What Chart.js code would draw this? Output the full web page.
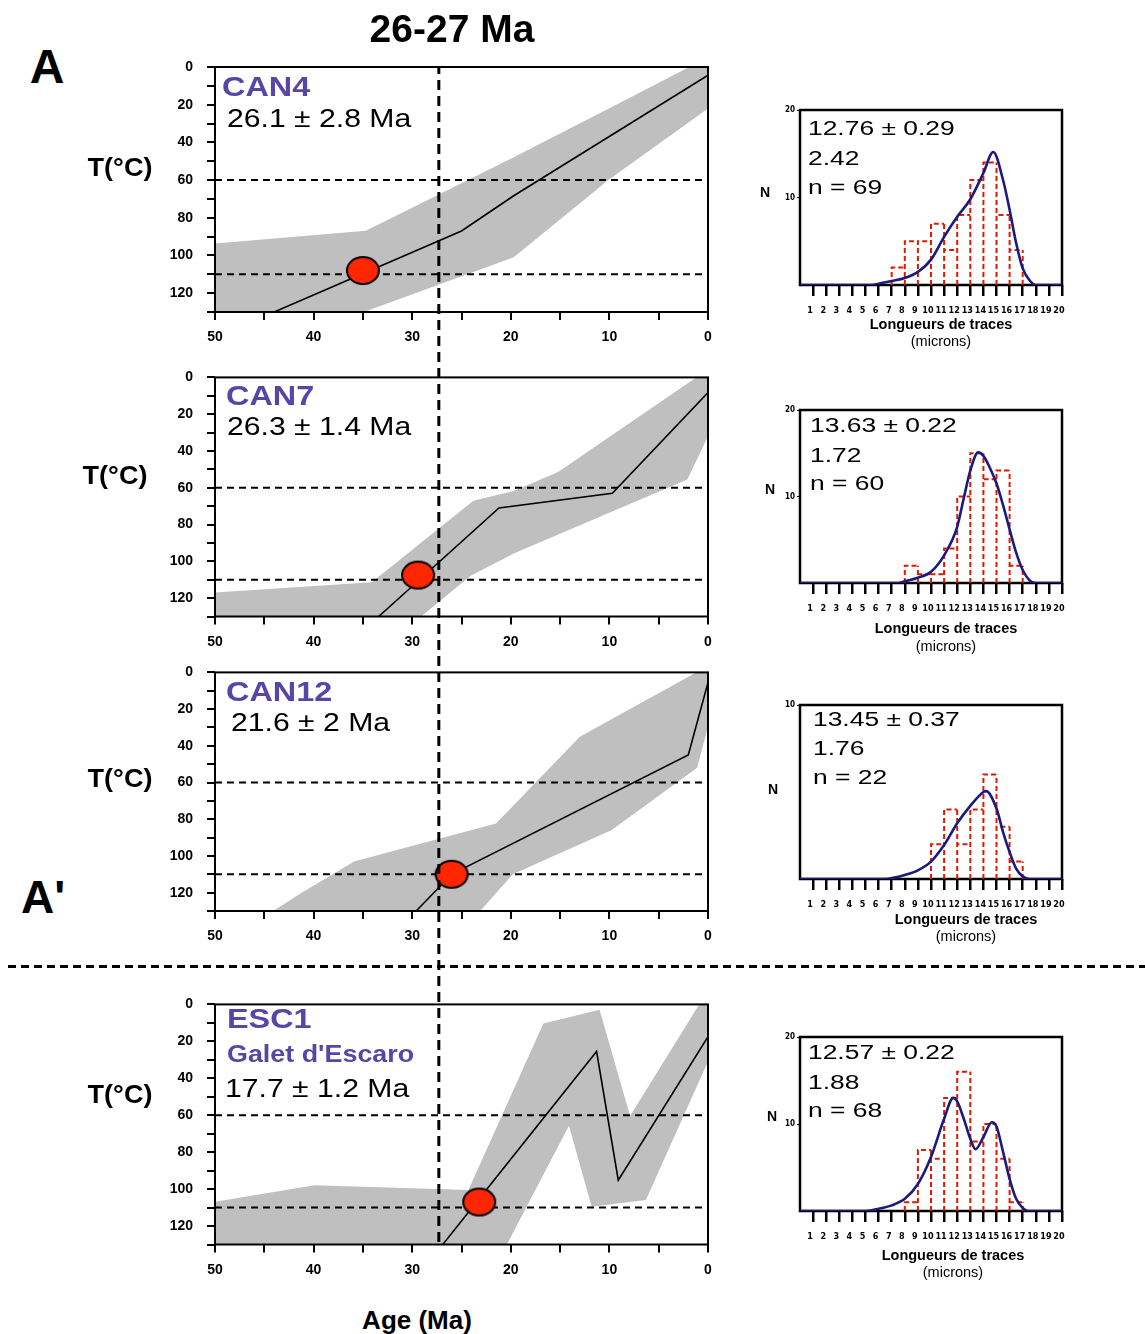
<!DOCTYPE html>
<html lang="fr">
<head>
<meta charset="UTF-8">
<title>26-27 Ma</title>
<script src="https://cdn.jsdelivr.net/npm/chart.js"></script>
<style>
    body { margin: 0; background: #fff; }
    #page { position: relative; width: 1145px; height: 1334px; overflow: hidden;
            font-family: 'Liberation Sans', Arial, Helvetica, sans-serif; color: #000; }
    #page canvas { position: absolute; }
    .txt { position: absolute; white-space: nowrap; line-height: 1; }
    .sep { position: absolute; left: 8px; width: 1137px; top: 965px; height: 3px;
           background: repeating-linear-gradient(to right, #000 0 8px, transparent 8px 13px); }
</style>
</head>
<body>
<div id="page"><div class="sep"></div></div>

<script>
    // ---- data ----
    const ageTicks = [50, 40, 30, 20, 10, 0];
    const tempTicks = [0, 20, 40, 60, 80, 100, 120];
    const refTemps = [60, 110];
    const cutAge = 27.3;

    const sampleNames = ['CAN4', 'CAN7', 'CAN12', 'ESC1'];
    const sampleSub = ['', '', '', "Galet d'Escaro"];
    const sampleAges = ['26.1 ± 2.8 Ma', '26.3 ± 1.4 Ma', '21.6 ± 2 Ma', '17.7 ± 1.2 Ma'];

    // best path (age Ma / T °C)
    const can4PathAge = [44, 25, 19.7, 0];
    const can4PathT = [130, 87, 68.3, 4.4];
    const can7PathAge = [33.4, 21.2, 9.7, 0];
    const can7PathT = [130, 71, 63, 8.2];
    const can12PathAge = [29.6, 26, 2, 0];
    const can12PathT = [130, 110, 45, 5.5];
    const esc1PathAge = [26.9, 11.3, 9.1, 0];
    const esc1PathT = [130, 25.5, 95.2, 17.5];

    // envelope outlines (age Ma / T °C)
    const can4EnvAge = [50, 34.7, 19.7, 10.4, 1.9, 0, 0, 10.1, 19.7, 34.9, 50];
    const can4EnvT = [93.6, 86.9, 47.9, 23, 0, 0, 22, 60, 101, 130, 130];
    const can7EnvAge = [50, 34.1, 23.8, 19.7, 15.2, 1.2, 0, 0, 2.1, 19.7, 24.1, 29.1, 50];
    const can7EnvT = [117, 111.4, 67, 61.8, 51.4, 0, 0, 32, 55.5, 95.7, 108, 130, 130];
    const can12EnvAge = [44.1, 41.5, 35.9, 21.5, 13, 1.2, 0, 0, 1.1, 9.8, 19.8, 23.1];
    const can12EnvT = [130, 121, 103, 82.3, 35, 0, 0, 29.6, 52, 86, 110, 130];
    const esc1EnvAge = [50, 39.9, 24.3, 16.7, 11, 7.9, 0.9, 0, 0, 6.3, 11.8, 14.1, 20.4, 50];
    const esc1EnvT = [106.8, 97.9, 100.5, 10.4, 2.9, 60.4, 0, 0, 30.9, 105.9, 109.5, 65.7, 130, 130];

    const dotAges = [35, 29.4, 26, 23.2];
    const dotTemps = [108, 107.5, 110, 107];

    // track length histograms
    const lengthTicks = [1, 2, 3, 4, 5, 6, 7, 8, 9, 10, 11, 12, 13, 14, 15, 16, 17, 18, 19, 20];
    const meanLengths = ['12.76 ± 0.29', '13.63 ± 0.22', '13.45 ± 0.37', '12.57 ± 0.22'];
    const stdDevs = ['2.42', '1.72', '1.76', '1.88'];
    const trackCounts = [69, 60, 22, 68];
    const histMax = [20, 20, 10, 20];
    const histYTicks = [[10, 20], [10, 20], [10], [10, 20]];

    const can4BinLo = [7, 8, 9, 10, 11, 12, 13, 14, 15, 16];
    const can4Counts = [2, 5, 5, 7, 4, 8, 12, 14, 8, 4];
    const can7BinLo = [8, 9, 10, 11, 12, 13, 14, 15, 16];
    const can7Counts = [2, 1, 1, 4, 10, 15, 12, 13, 2];
    const can12BinLo = [10, 11, 12, 13, 14, 15, 16];
    const can12Counts = [2, 4, 2, 4, 6, 3, 1];
    const esc1BinLo = [8, 9, 10, 11, 12, 13, 14, 15, 16];
    const esc1Counts = [1, 7, 6, 13, 16, 8, 10, 6, 1];

    const can4CurveX = [0, 5.5, 6, 7, 8, 9, 10, 11, 12, 13, 14, 14.75, 15.5, 16, 16.5, 17, 17.6, 18, 20];
    const can4CurveN = [0, 0, 0.15, 0.45, 0.8, 1.5, 2.9, 5.5, 7.8, 9.8, 12.8, 15.2, 12, 8.6, 4.8, 1.9, 0.4, 0, 0];
    const can7CurveX = [0, 7.5, 8, 9, 10, 11, 12, 12.5, 13, 13.6, 14, 14.5, 15, 15.5, 16, 16.5, 17, 17.6, 18, 20];
    const can7CurveN = [0, 0, 0.2, 0.6, 1.3, 3.2, 6.5, 9.8, 13, 15.1, 14.7, 13.3, 11.5, 9, 6.2, 3.5, 1.5, 0.2, 0, 0];
    const can12CurveX = [0, 6.5, 7, 8, 9, 10, 11, 12, 13, 14, 14.2, 15, 15.5, 16, 16.5, 17, 17.5, 20];
    const can12CurveN = [0, 0, 0.05, 0.23, 0.5, 1, 1.95, 3.2, 4.2, 5, 5.05, 4.05, 2.7, 1.55, 0.6, 0.15, 0, 0];
    const esc1CurveX = [0, 5, 6, 7, 8, 9, 10, 11, 11.7, 12, 12.5, 13, 13.4, 14, 14.65, 15, 15.5, 16, 16.5, 17, 17.4, 20];
    const esc1CurveN = [0, 0, 0.25, 0.65, 1.4, 3.1, 6.2, 10.6, 13, 12.6, 10.6, 8.3, 7.1, 8.5, 10.2, 9.7, 6.8, 3.7, 1.4, 0.35, 0, 0];

    // ---- layout ----
    const family = "'Liberation Sans', Arial, Helvetica, sans-serif";
    const narrow = "'Liberation Sans Narrow', 'DejaVu Sans Condensed', 'Liberation Sans', sans-serif";
    const purple = '#5846a6';
    Chart.defaults.font.family = family;

    const page = document.getElementById('page');

    // x axis band is 33px tall (labels are clipped to it)
    const pathLayout = [
        { top: 40, height: 315, padTop: 27, padBottom: 10, first: true },
        { top: 355, height: 295, padTop: 16.5, padBottom: 0.5 },
        { top: 650, height: 332, padTop: 16, padBottom: 38 },
        { top: 982, height: 313, padTop: 17, padBottom: 17.5, last: true }
    ];
    const pathText = [
        { name: [222, 87], age: [227, 118], ylab: [120, 167] },
        { name: [226, 396], age: [227, 426], ylab: [115, 475] },
        { name: [226, 692], age: [231, 722], ylab: [120, 778] },
        { name: [227, 1019], sub: [227, 1054], age: [225, 1088], ylab: [120, 1094] }
    ];
    const histLayout = [
        { top: 95, height: 235, padTop: 15, padBottom: 11 },
        { top: 395, height: 235, padTop: 15, padBottom: 13 },
        { top: 690, height: 235, padTop: 15, padBottom: 12 },
        { top: 1022, height: 233, padTop: 15, padBottom: 10 }
    ];
    const histText = [
        { x: 808, ys: [128, 158, 187], n: [765, 192], cx: 941, lab: [324, 341] },
        { x: 810, ys: [425, 455, 483], n: [770, 489], cx: 946, lab: [628, 646] },
        { x: 813, ys: [719, 748, 777], n: [773, 789], cx: 966, lab: [919, 936] },
        { x: 808, ys: [1052, 1082, 1110], n: [772, 1116], cx: 953, lab: [1255, 1272] }
    ];

    function addText(str, x, y, o) {
        const d = document.createElement('div');
        d.className = 'txt';
        d.textContent = str;
        d.style.left = x + 'px';
        d.style.top = y + 'px';
        d.style.fontSize = o.size + 'px';
        d.style.fontWeight = o.bold ? 'bold' : 'normal';
        d.style.color = o.color || '#000';
        const sx = o.sx || 1;
        if (o.center) {
            d.style.transform = 'translate(-50%, -50%) scaleX(' + sx + ')';
        } else {
            d.style.transformOrigin = '0 50%';
            d.style.transform = 'translateY(-50%) scaleX(' + sx + ')';
        }
        page.appendChild(d);
    }

    function makeCanvas(left, top, w, h) {
        const c = document.createElement('canvas');
        c.width = w; c.height = h;
        c.style.left = left + 'px'; c.style.top = top + 'px';
        c.style.width = w + 'px'; c.style.height = h + 'px';
        page.appendChild(c);
        return c;
    }

    const pts = (xs, ys) => xs.map((x, k) => ({ x: x, y: ys[k] }));

    // box round the plot area
    const framePlugin = {
        id: 'frame',
        beforeDatasetsDraw(chart, args, opts) {
            if (!opts.above) drawFrame(chart, opts);
        },
        afterDatasetsDraw(chart, args, opts) {
            if (opts.above) drawFrame(chart, opts);
        }
    };
    function drawFrame(chart, opts) {
        const a = chart.chartArea, ctx = chart.ctx;
        ctx.save();
        ctx.strokeStyle = '#000';
        ctx.lineWidth = opts.width || 2;
        ctx.strokeRect(a.left, a.top, a.right - a.left, a.bottom - a.top);
        ctx.restore();
    }

    // vertical dashed age line running through all path panels
    const cutPlugin = {
        id: 'cut',
        afterDraw(chart, args, opts) {
            if (!opts.show) return;
            const ctx = chart.ctx, a = chart.chartArea;
            const x = chart.scales.x.getPixelForValue(opts.age);
            const y0 = opts.first ? a.top : 0;
            const y1 = opts.last ? a.bottom : chart.height;
            ctx.save();
            ctx.strokeStyle = '#000';
            ctx.lineWidth = 3;
            ctx.setLineDash([10, 6]);
            ctx.lineDashOffset = opts.offset + y0;
            ctx.beginPath();
            ctx.moveTo(x, y0);
            ctx.lineTo(x, y1);
            ctx.stroke();
            ctx.restore();
        }
    };

    // dashed red outlines of histogram bars
    const dashedBars = {
        id: 'dashedBars',
        afterDatasetDraw(chart, args) {
            if (args.meta.type !== 'bar') return;
            const ctx = chart.ctx;
            ctx.save();
            ctx.strokeStyle = '#e01a00';
            ctx.lineWidth = 2;
            ctx.setLineDash([5, 3]);
            ctx.beginPath();
            args.meta.data.forEach(el => {
                const p = el.getProps(['x', 'y', 'base', 'width'], true);
                const l = p.x - p.width / 2, r = p.x + p.width / 2;
                ctx.moveTo(l, p.base); ctx.lineTo(l, p.y); ctx.lineTo(r, p.y);
                ctx.moveTo(r, p.base); ctx.lineTo(r, p.y);
            });
            ctx.stroke();
            ctx.restore();
        }
    };

    // red sample dot (slightly flattened)
    const dotImg = document.createElement('canvas');
    dotImg.width = 36; dotImg.height = 31;
    (function () {
        const g = dotImg.getContext('2d');
        g.beginPath();
        g.ellipse(18, 15.5, 16, 13.5, 0, 0, 2 * Math.PI);
        g.fillStyle = '#ff2600';
        g.fill();
        g.lineWidth = 2;
        g.strokeStyle = '#000';
        g.stroke();
    })();

    const tickFont = { family: family, size: 14, weight: 'bold' };

    function pathChart(i, envAge, envT, pathAge, pathT) {
        const lay = pathLayout[i];
        const cv = makeCanvas(140, lay.top, 590, lay.height);
        const datasets = [
            { data: pts(envAge, envT), fill: 'shape', backgroundColor: '#bfbfbf', borderWidth: 0, pointRadius: 0, order: 5 }
        ];
        refTemps.forEach(t => datasets.push({
            data: [{ x: ageTicks[0], y: t }, { x: ageTicks[ageTicks.length - 1], y: t }],
            borderColor: '#000', borderWidth: 2, borderDash: [7, 5], pointRadius: 0, fill: false, order: 4
        }));
        datasets.push({ data: pts(pathAge, pathT), borderColor: '#000', borderWidth: 1.6, pointRadius: 0, fill: false, order: 2 });
        datasets.push({ data: [{ x: dotAges[i], y: dotTemps[i] }], showLine: false, pointStyle: dotImg, pointRadius: 15, order: 1 });

        new Chart(cv, {
            type: 'line',
            data: { datasets: datasets },
            options: {
                responsive: false,
                animation: false,
                layout: { padding: { left: 20, right: 22, top: lay.padTop, bottom: lay.padBottom } },
                plugins: {
                    legend: { display: false },
                    tooltip: { enabled: false },
                    frame: { above: true, width: 2 },
                    cut: { show: true, age: cutAge, first: !!lay.first, last: !!lay.last, offset: lay.top }
                },
                scales: {
                    x: {
                        type: 'linear', min: 0, max: 50, reverse: true,
                        afterFit: s => { s.height = 33; },
                        border: { display: false },
                        grid: { drawOnChartArea: false, tickLength: 8, color: '#000', lineWidth: 2 },
                        ticks: {
                            stepSize: 5, autoSkip: false, maxRotation: 0, padding: 9, color: '#000', font: tickFont,
                            callback: v => ageTicks.includes(v) ? String(v) : ''
                        }
                    },
                    y: {
                        type: 'linear', min: 0, max: 130, reverse: true,
                        afterFit: s => { s.width = 55; },
                        border: { display: false },
                        grid: { drawOnChartArea: false, tickLength: 8, color: '#000', lineWidth: 2 },
                        ticks: {
                            stepSize: 10, autoSkip: false, padding: 14, color: '#000', font: tickFont,
                            callback: v => tempTicks.includes(v) ? String(v) : ''
                        }
                    }
                }
            },
            plugins: [framePlugin, cutPlugin]
        });

        const t = pathText[i];
        addText(sampleNames[i], t.name[0], t.name[1], { size: 27, bold: true, color: purple, sx: 1.2 });
        if (t.sub) addText(sampleSub[i], t.sub[0], t.sub[1], { size: 24, bold: true, color: purple, sx: 1.12 });
        addText(sampleAges[i], t.age[0], t.age[1], { size: 26, sx: 1.16 });
        addText('T(°C)', t.ylab[0], t.ylab[1], { size: 25, bold: true, center: true, sx: 1.08 });
    }

    function histChart(i, binLo, counts, curveX, curveN) {
        const lay = histLayout[i];
        const cv = makeCanvas(760, lay.top, 320, lay.height);
        new Chart(cv, {
            type: 'bar',
            data: {
                datasets: [
                    { type: 'line', data: pts(curveX, curveN), borderColor: '#1b1b7d', borderWidth: 2.6,
                      pointRadius: 0, cubicInterpolationMode: 'monotone', fill: false, order: 1 },
                    { type: 'bar', data: binLo.map((b, k) => ({ x: b + 0.5, y: counts[k] })),
                      backgroundColor: 'rgba(0,0,0,0)', borderWidth: 0, barPercentage: 1, categoryPercentage: 1, order: 2 }
                ]
            },
            options: {
                responsive: false,
                animation: false,
                layout: { padding: { left: 15, right: 18, top: lay.padTop, bottom: lay.padBottom } },
                plugins: {
                    legend: { display: false },
                    tooltip: { enabled: false },
                    frame: { above: false, width: 2.5 }
                },
                scales: {
                    x: {
                        type: 'linear', min: 0, max: 20, offset: false,
                        afterFit: s => { s.height = 34; },
                        afterBuildTicks: s => { s.ticks = lengthTicks.map(v => ({ value: v })); },
                        border: { display: false },
                        grid: { offset: false, drawOnChartArea: false, tickLength: 11, color: '#000', lineWidth: 2.5 },
                        ticks: { autoSkip: false, maxRotation: 0, padding: 9, labelOffset: -3, color: '#000',
                                 font: { family: narrow, size: 9, weight: 'bold' } }
                    },
                    y: {
                        type: 'linear', min: 0, max: histMax[i],
                        afterFit: s => { s.width = 25; },
                        afterBuildTicks: s => { s.ticks = histYTicks[i].map(v => ({ value: v })); },
                        border: { display: false },
                        grid: { drawOnChartArea: false, tickLength: 3, color: '#000', lineWidth: 1 },
                        ticks: { padding: 2, color: '#000', font: { family: narrow, size: 8, weight: 'bold' } }
                    }
                }
            },
            plugins: [framePlugin, dashedBars]
        });

        const t = histText[i];
        addText(meanLengths[i], t.x, t.ys[0], { size: 20, sx: 1.32 });
        addText(stdDevs[i], t.x, t.ys[1], { size: 20, sx: 1.32 });
        addText('n = ' + trackCounts[i], t.x, t.ys[2], { size: 20, sx: 1.32 });
        addText('N', t.n[0], t.n[1], { size: 14, bold: true, center: true });
        addText('Longueurs de traces', t.cx, t.lab[0], { size: 14.5, bold: true, center: true });
        addText('(microns)', t.cx, t.lab[1], { size: 14.5, center: true });
    }

    pathChart(0, can4EnvAge, can4EnvT, can4PathAge, can4PathT);
    pathChart(1, can7EnvAge, can7EnvT, can7PathAge, can7PathT);
    pathChart(2, can12EnvAge, can12EnvT, can12PathAge, can12PathT);
    pathChart(3, esc1EnvAge, esc1EnvT, esc1PathAge, esc1PathT);

    histChart(0, can4BinLo, can4Counts, can4CurveX, can4CurveN);
    histChart(1, can7BinLo, can7Counts, can7CurveX, can7CurveN);
    histChart(2, can12BinLo, can12Counts, can12CurveX, can12CurveN);
    histChart(3, esc1BinLo, esc1Counts, esc1CurveX, esc1CurveN);

    addText('26-27 Ma', 452, 28, { size: 39, bold: true, center: true });
    addText('A', 47, 67, { size: 48, bold: true, center: true });
    addText("A'", 21, 897, { size: 46, bold: true });
    addText('Age (Ma)', 417, 1320, { size: 26, bold: true, center: true });
</script>
</body>
</html>
